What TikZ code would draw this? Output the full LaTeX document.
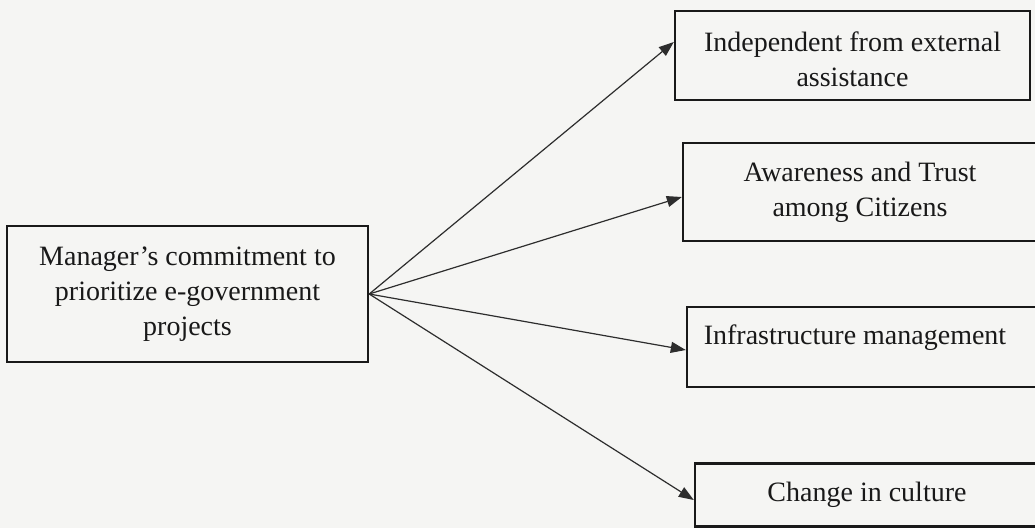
\documentclass[tikz,border=0pt]{standalone}
\usepackage{fontspec}
\setmainfont{Liberation Serif}
\usetikzlibrary{arrows.meta,calc}
\definecolor{paper}{RGB}{245,245,243}
\definecolor{ink}{RGB}{25,25,25}
\definecolor{wire}{RGB}{45,45,45}
\begin{document}
\begin{tikzpicture}[x=1pt,y=-1pt,
  box/.style={draw=ink, line width=2.4pt, rectangle, inner sep=0pt,
    align=center, text=ink, font=\fontsize{28}{35}\selectfont},
  caption/.style={text=ink, inner sep=0pt, font=\fontsize{28}{35}\selectfont},
  link/.style={draw=wire, line width=1.2pt, -{Triangle[length=15pt,width=11pt]}}]
% page area
\clip (0,0) rectangle (1035,528);
\fill[paper] (0,0) rectangle (1035,528);

% source box
\node[box, minimum width=361pt, minimum height=136pt] (mgr) at (187.5,294)
  {Manager’s commitment to\\prioritize e-government\\projects};

% outcome boxes
\node[box, minimum width=355pt, minimum height=89pt] (ind) at (852.5,55.5)
  {\raisebox{-4pt}[\height][\depth]{Independent from external}\\
   \raisebox{-4pt}[\height][\depth]{assistance}};
\node[box, minimum width=354pt, minimum height=98pt] (aw) at (860,192)
  {Awareness and Trust\\among Citizens};
\node[box, minimum width=360pt, minimum height=80pt] (inf) at (867,347) {};
\node[caption] (infT) at (855,338) {Infrastructure management};
\node[box, minimum width=344pt, minimum height=63pt] (ch) at (867,495)
  {Change in culture};

% arrow entry points on the left edges
\coordinate (indIn) at (ind.west |- 0,42);
\coordinate (awIn)  at (aw.west |- 0,197);
\coordinate (infIn) at (inf.west |- 0,350);
\coordinate (chIn)  at (ch.west |- 0,500);

% connectors
\draw[link] (mgr.east) -- (indIn);
\draw[link] (mgr.east) -- (awIn);
\draw[link] (mgr.east) -- (infIn);
\draw[link] (mgr.east) -- (chIn);
\end{tikzpicture}
\end{document}
